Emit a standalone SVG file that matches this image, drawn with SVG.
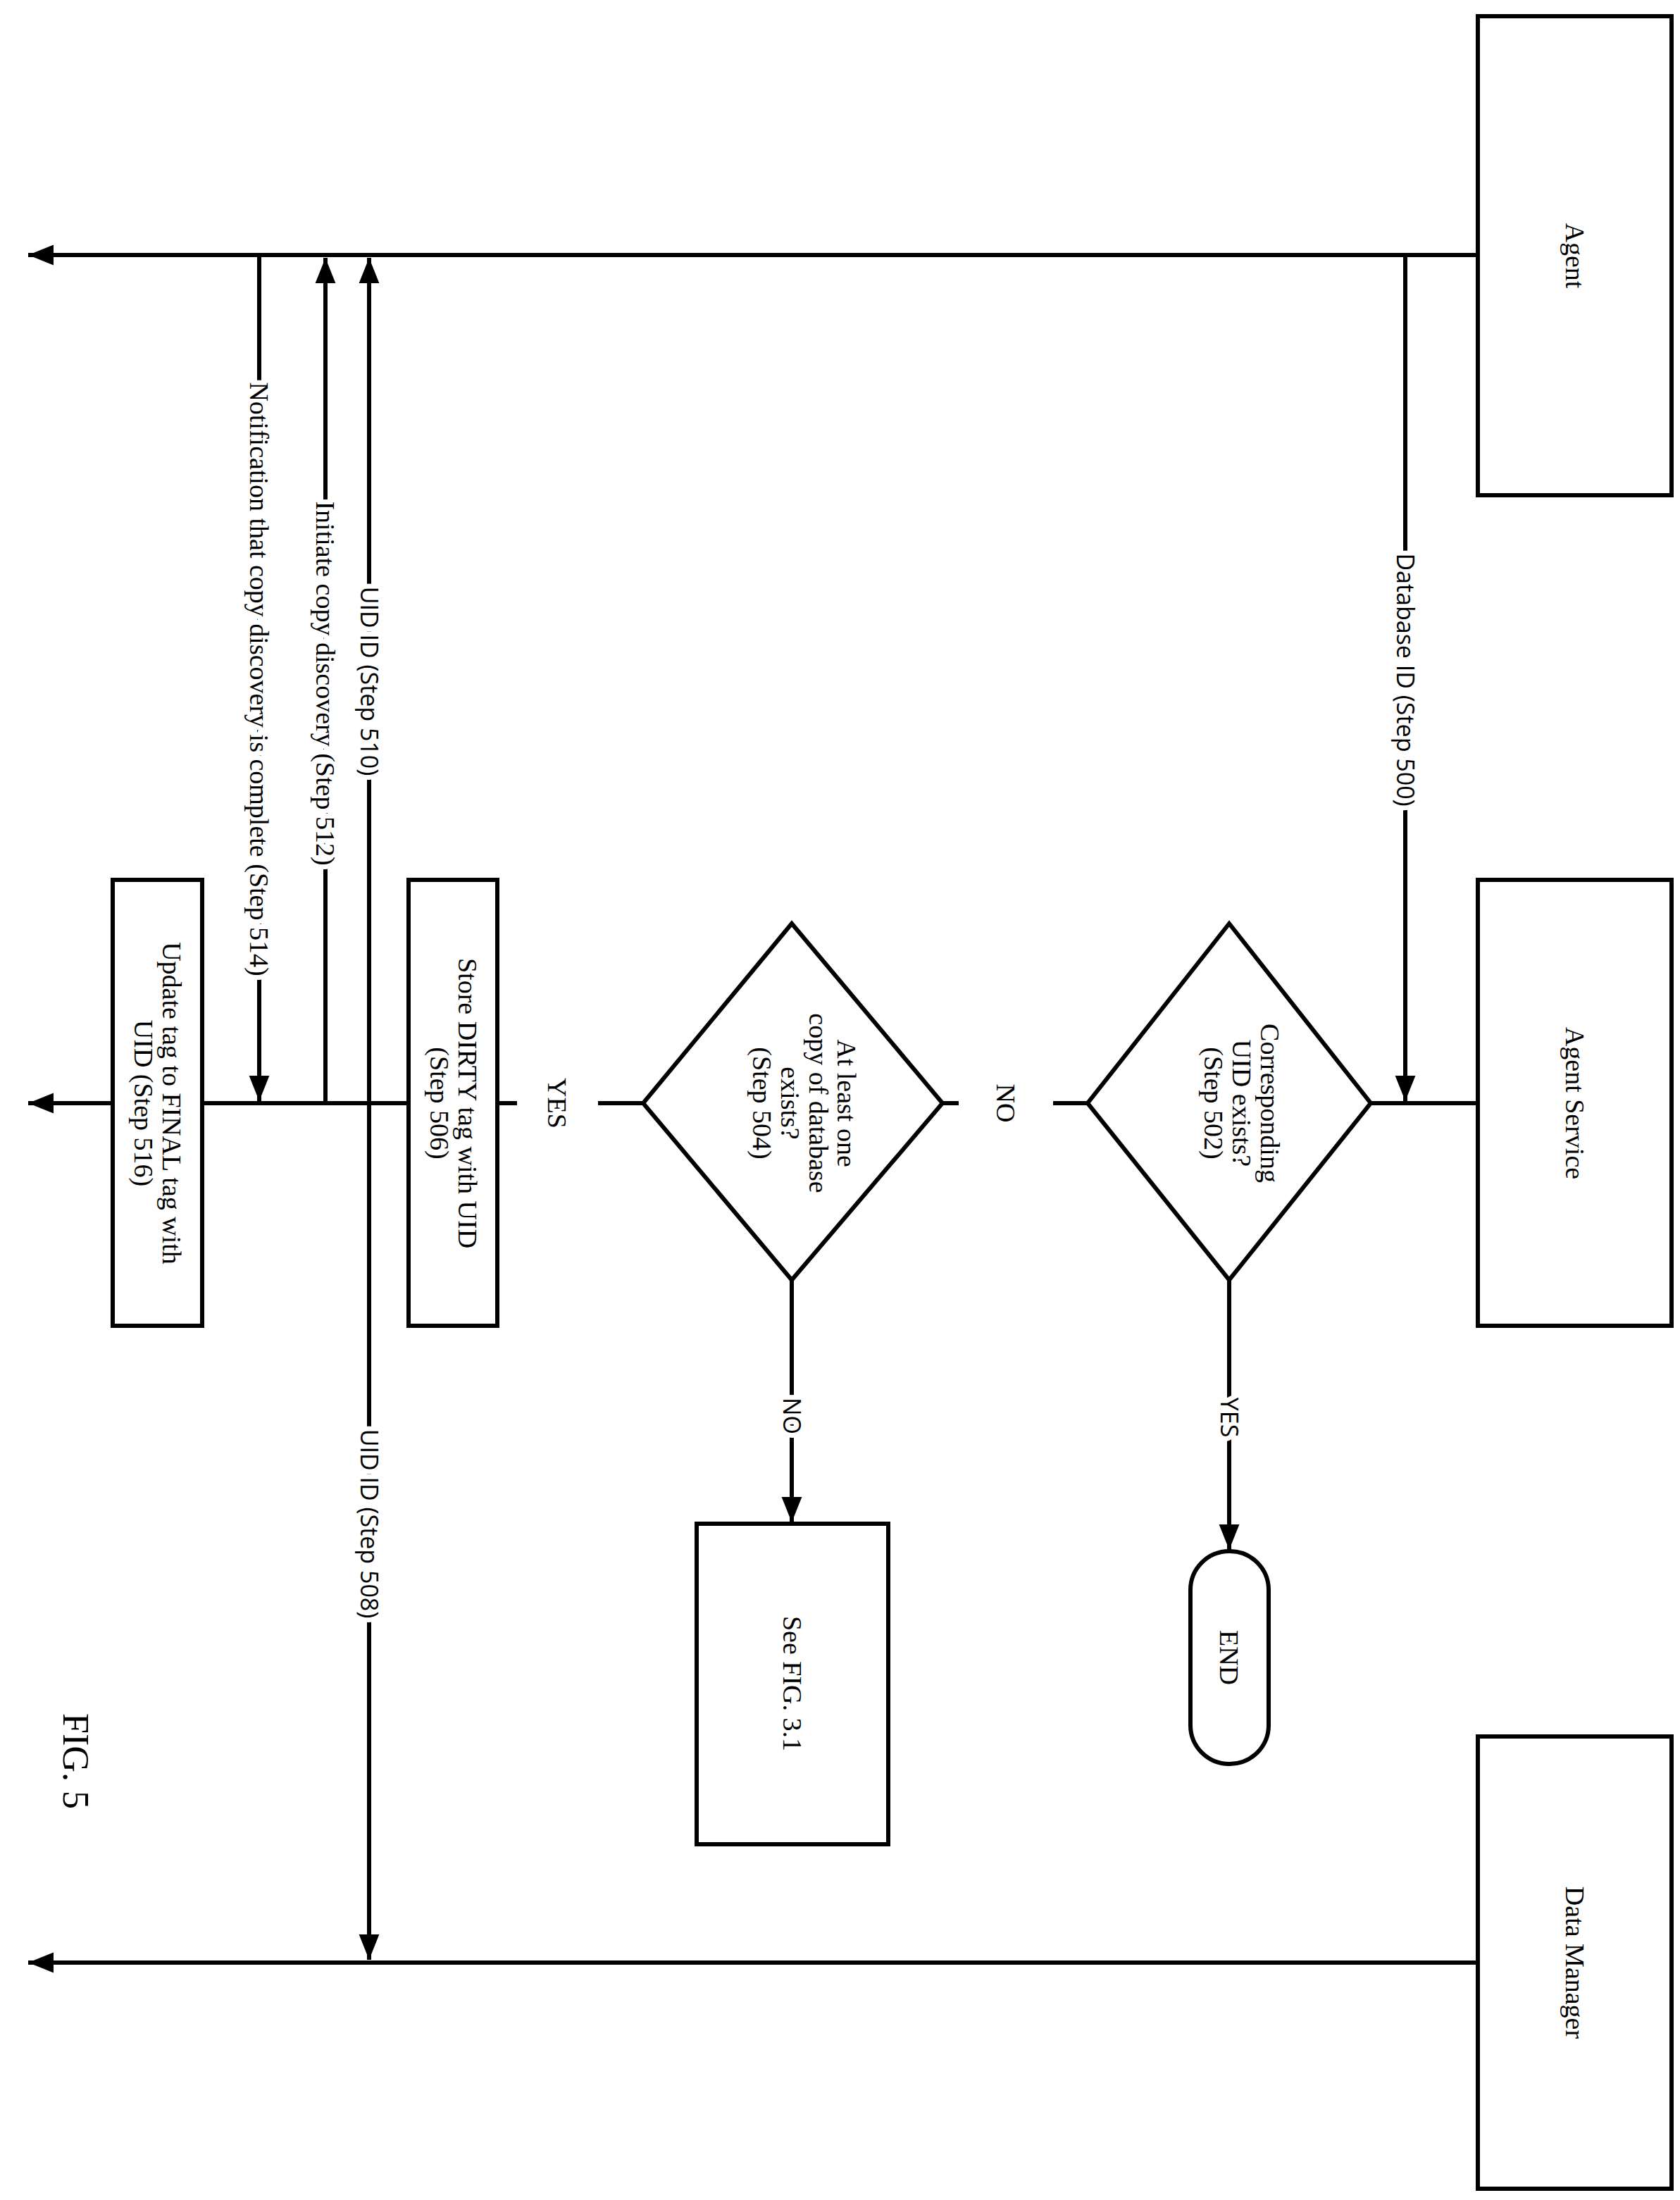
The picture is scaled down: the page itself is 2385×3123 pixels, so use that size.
<svg xmlns="http://www.w3.org/2000/svg" width="2385" height="3123" viewBox="0 0 2385 3123">
<style>
.b{fill:#fff;stroke:#000;stroke-width:6}
.l{fill:none;stroke:#000;stroke-width:6}
.t{font-family:"Liberation Serif",serif;font-size:38px;text-anchor:middle;fill:#000}
.s{font-family:"Open Sans","Liberation Sans",sans-serif;font-size:34px;text-anchor:middle;fill:#000;stroke:#fff;stroke-width:14;paint-order:stroke}
.ts{stroke:#fff;stroke-width:14;paint-order:stroke}
</style>
<defs>
<marker id="a" markerWidth="10" markerHeight="8" refX="10" refY="4" orient="auto" markerUnits="userSpaceOnUse" viewBox="0 0 10 8"><path d="M0,0L10,4L0,8z"/></marker>
<marker id="A" viewBox="0 0 10 8" refX="10" refY="4" markerWidth="36" markerHeight="30" orient="auto" markerUnits="userSpaceOnUse"><path d="M0,0L10,4L0,8z"/></marker>
</defs>
<g id="connectors">
<line class="l" x1="2098" y1="362" x2="40" y2="362" marker-end="url(#A)"/>
<line class="l" x1="2098" y1="1566" x2="1946" y2="1566"/>
<line class="l" x1="1544" y1="1566" x2="1495" y2="1566"/>
<line class="l" x1="1361" y1="1566" x2="1338" y2="1566"/>
<line class="l" x1="913" y1="1566" x2="849" y2="1566"/>
<line class="l" x1="734" y1="1566" x2="40" y2="1566" marker-end="url(#A)"/>
<line class="l" x1="2098" y1="2786" x2="40" y2="2786" marker-end="url(#A)"/>
<line class="l" x1="1995" y1="362" x2="1995" y2="1563" marker-end="url(#A)"/>
<line class="l" x1="524" y1="1566" x2="524" y2="366" marker-end="url(#A)"/>
<line class="l" x1="524" y1="1566" x2="524" y2="2782" marker-end="url(#A)"/>
<line class="l" x1="462" y1="1566" x2="462" y2="366" marker-end="url(#A)"/>
<line class="l" x1="368" y1="362" x2="368" y2="1563" marker-end="url(#A)"/>
<line class="l" x1="1745" y1="1817" x2="1745" y2="2200" marker-end="url(#A)"/>
<line class="l" x1="1124" y1="1817" x2="1124" y2="2161" marker-end="url(#A)"/>
<text class="s" transform="translate(1995,965) rotate(90)" dy="12">Database ID (Step 500)</text>
<text class="s" transform="translate(524,967) rotate(90)" dy="12">UID ID (Step 510)</text>
<text class="s" transform="translate(524,2163) rotate(90)" dy="12">UID ID (Step 508)</text>
<text class="t ts" transform="translate(462,970) rotate(90)" dy="13">Initiate copy discovery (Step 512)</text>
<text class="t ts" transform="translate(368,964) rotate(90)" dy="13">Notification that copy discovery is complete (Step 514)</text>
<text class="t" transform="translate(1428,1566) rotate(90)" dy="13">NO</text>
<text class="t" transform="translate(791,1566) rotate(90)" dy="13">YES</text>
<text class="s" transform="translate(1745,2012) rotate(90)" dy="12">YES</text>
<text class="s" transform="translate(1124,2010) rotate(90)" dy="12">NO</text>
</g>
<g id="agent"><rect class="b" x="2098" y="23" width="275" height="680"/><text class="t" transform="translate(2236,363) rotate(90)" dy="13">Agent</text></g>
<g id="agent-service"><rect class="b" x="2098" y="1249" width="275" height="633"/><text class="t" transform="translate(2236,1566) rotate(90)" dy="13">Agent Service</text></g>
<g id="data-manager"><rect class="b" x="2098" y="2465" width="275" height="642"/><text class="t" transform="translate(2236,2786) rotate(90)" dy="13">Data Manager</text></g>
<g id="d502"><path class="b" d="M1745,1311L1946,1566L1745,1817L1544,1566z"/><text class="t" transform="translate(1745,1566) rotate(90)"><tspan x="0" dy="-45">Corresponding</tspan><tspan x="0" dy="40">UID exists?</tspan><tspan x="0" dy="40">(Step 502)</tspan></text></g>
<g id="d504"><path class="b" d="M1124,1311L1338,1566L1124,1817L913,1566z"/><text class="t" transform="translate(1124,1566) rotate(90)"><tspan x="0" dy="-65">At least one</tspan><tspan x="0" dy="40">copy of database</tspan><tspan x="0" dy="40">exists?</tspan><tspan x="0" dy="40">(Step 504)</tspan></text></g>
<g id="b506"><rect class="b" x="580" y="1249" width="126" height="633"/><text class="t" transform="translate(643,1566) rotate(90)"><tspan x="0" dy="-8">Store DIRTY tag with UID</tspan><tspan x="0" dy="40">(Step 506)</tspan></text></g>
<g id="b516"><rect class="b" x="160" y="1249" width="127" height="633"/><text class="t" transform="translate(223,1566) rotate(90)"><tspan x="0" dy="-8">Update tag to FINAL tag with</tspan><tspan x="0" dy="40">UID (Step 516)</tspan></text></g>
<g id="end"><rect class="b" x="1690" y="2202" width="111" height="302" rx="55"/><text class="t" transform="translate(1745,2353) rotate(90)" dy="13">END</text></g>
<g id="fig31"><rect class="b" x="989" y="2163" width="272" height="455"/><text class="t" transform="translate(1125,2390) rotate(90)" dy="13">See FIG. 3.1</text></g>
<text class="t" style="font-size:52px" transform="translate(107,2500) rotate(90)" dy="17">FIG. 5</text>
</svg>
